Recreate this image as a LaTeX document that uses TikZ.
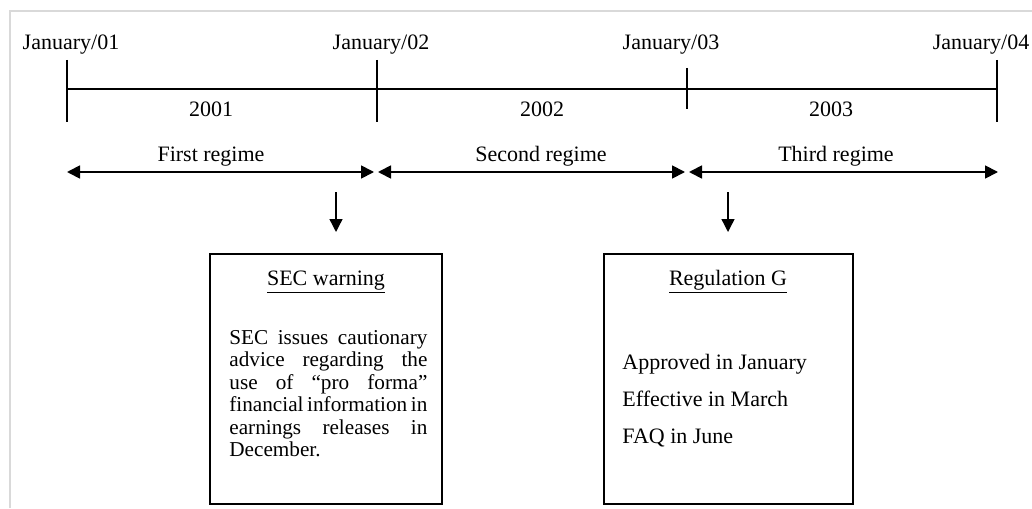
\documentclass[tikz,border=0pt]{standalone}
\usepackage{fontspec}
\setmainfont{Liberation Serif}
\usetikzlibrary{arrows.meta}

\begin{document}
\begin{tikzpicture}[
    x=0.5pt, y=-0.5pt,
    font=\fontsize{11}{11.5}\selectfont,
    axis/.style={line width=1pt},
    tick/.style={line width=1pt},
    fecha/.style={anchor=base, inner sep=0pt},
    regime/.style={{Triangle[length=6.5pt,width=6.5pt]}-{Triangle[length=6.5pt,width=6.5pt]}, line width=0.9pt},
    pointer/.style={-{Triangle[length=6.5pt,width=6.5pt]}, line width=0.7pt},
    caja/.style={draw, line width=1pt, inner sep=0pt},
    texto/.style={anchor=base west, inner sep=0pt}
  ]
  \useasboundingbox (0,0) rectangle (1032,508);
  \draw[black!15, line width=1pt] (10,508) -- (10,11) -- (1032,11);

  % time axis
  \coordinate (ax01) at (67,89);
  \coordinate (ax04) at (997,89);
  \draw[axis] (ax01) -- (ax04);
  \foreach \n/\x/\t/\b in {01/67/60/122, 02/377/60/122, 03/687/68/109, 04/997/60/122} {
    \coordinate (top\n) at (\x,\t);
    \coordinate (bot\n) at (\x,\b);
    \draw[tick] (top\n) -- (bot\n);
  }

  \node[fecha] (d01) at (71,50)  {January/01};
  \node[fecha] (d02) at (381,50) {January/02};
  \node[fecha] (d03) at (671,50) {January/03};
  \node[fecha] (d04) at (981,50) {January/04};

  \node[fecha] (y01) at (211,117) {2001};
  \node[fecha] (y02) at (542,117) {2002};
  \node[fecha] (y03) at (831,117) {2003};

  % regimes
  \node[fecha] (g1) at (211,161) {First regime};
  \node[fecha] (g2) at (541,161) {Second regime};
  \node[fecha] (g3) at (836,161) {Third regime};

  \coordinate (r1a) at (67,172);  \coordinate (r1b) at (374,172);
  \coordinate (r2a) at (378,172); \coordinate (r2b) at (685,172);
  \coordinate (r3a) at (689,172); \coordinate (r3b) at (998,172);
  \draw[regime] (r1a) -- (r1b);
  \draw[regime] (r2a) -- (r2b);
  \draw[regime] (r3a) -- (r3b);

  % events
  \coordinate (p1a) at (336,192); \coordinate (p1b) at (336,232);
  \coordinate (p2a) at (728,192); \coordinate (p2b) at (728,232);
  \draw[pointer] (p1a) -- (p1b);
  \draw[pointer] (p2a) -- (p2b);

  \node[caja, minimum width=116pt, minimum height=125pt] (sec) at (326,379) {};
  \node[fecha] (sect) at (326,285) {\underline{SEC warning}};
  \node[anchor=north west, inner sep=0pt, text width=99pt, align=justify,
        font=\fontsize{10.6}{11.2}\selectfont] (secb) at (229,330)
    {\hyphenpenalty=10000 \exhyphenpenalty=10000 \hbadness=10000 \hfuzz=3pt
     SEC issues cautionary\linebreak advice regarding the\linebreak use of ``pro forma''\linebreak
     financial information in\linebreak earnings releases in\linebreak December.};

  \node[caja, minimum width=124.5pt, minimum height=125pt] (reg) at (728.5,379) {};
  \node[fecha] (regt) at (728,285) {\underline{Regulation G}};
  \node[texto] (reg1) at (622,369) {Approved in January};
  \node[texto] (reg2) at (622,406) {Effective in March};
  \node[texto] (reg3) at (622,443) {FAQ in June};
\end{tikzpicture}
\end{document}
